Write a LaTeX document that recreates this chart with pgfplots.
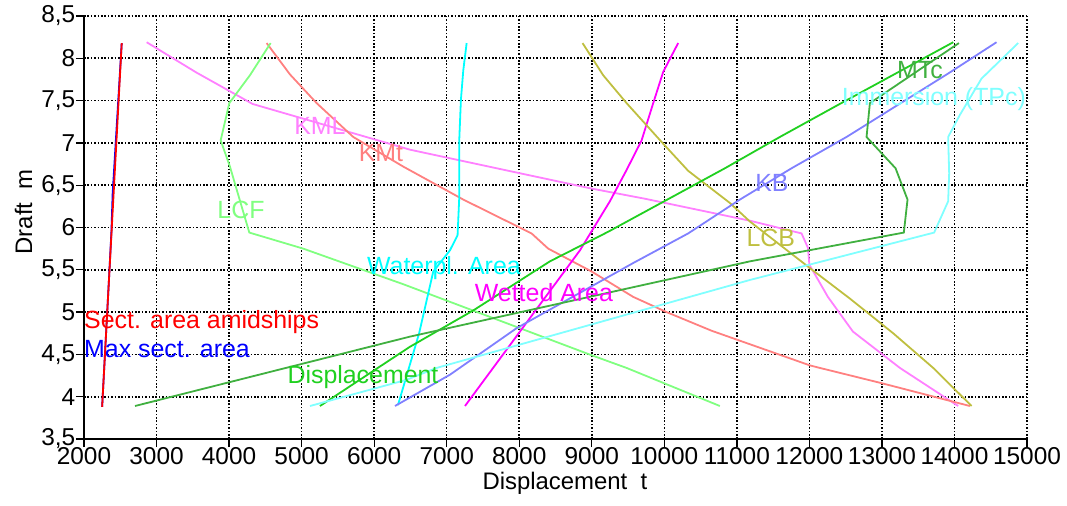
\documentclass[border=0pt]{standalone}
\usepackage{fontspec}
\setmainfont{Liberation Sans}
\usepackage{pgfplots}
\pgfplotsset{compat=1.18}
\usetikzlibrary{calc}

\definecolor{cKML}{HTML}{FF80FF}
\definecolor{cKMt}{HTML}{FF8080}
\definecolor{cLCF}{HTML}{80FF80}
\definecolor{cWat}{HTML}{00FFFF}
\definecolor{cWet}{HTML}{FF00FF}
\definecolor{cLCB}{HTML}{BFBF40}
\definecolor{cKB}{HTML}{8080FF}
\definecolor{cDis}{HTML}{20D020}
\definecolor{cMTc}{HTML}{40B040}
\definecolor{cImm}{HTML}{80FFFF}

\begin{document}
\begin{tikzpicture}
\begin{axis}[
    scale only axis,
    width=943bp, height=423bp,
    xmin=2000, xmax=15000,
    ymin=3.5, ymax=8.5,
    xtick={2000,3000,...,15000},
    ytick={3.5,4,...,8.5},
    scaled ticks=false,
    axis lines=left,
    axis line style={-, black, line width=2bp},
    tick align=outside,
    major tick length=8bp,
    tick style={black, line width=1.3bp},
    grid=major,
    major grid style={black, line width=1.6bp, dash pattern=on 1.6bp off 1.8bp},
    /pgf/number format/use comma,
    /pgf/number format/1000 sep={},
    /pgf/number format/assume math mode=true,
    ticklabel style={font=\fontsize{24.5}{26}\selectfont},
    xticklabel style={inner sep=0.5bp},
    yticklabel style={inner sep=0.5bp},
    label style={font=\fontsize{24}{26}\selectfont},
    xlabel={Displacement~~t},
    ylabel={Draft~~m},
    xlabel style={at={(axis description cs:0.51,-0.104)}, anchor=center},
    ylabel style={at={(axis description cs:-0.064,0.537)}, anchor=center},
    every axis plot/.append style={line width=1.8bp},
    clip=false,
    nodes={font=\fontsize{25}{27}\selectfont, inner sep=0pt},
]

% Max sect. area
\addplot[blue] coordinates {
    (2250,3.88) (2345,5.40) (2378,5.95) (2395,6.40) (2520,8.18)
};
% Sect. area amidships
\addplot[red] coordinates {
    (2250,3.88) (2520,8.18)
};
% KML
\addplot[cKML] coordinates {
    (2864,8.19) (3553,7.83) (4325,7.46) (6493,6.92) (7689,6.70) (8998,6.46)
    (9733,6.34) (11181,6.08) (11892,5.93) (11980,5.76) (12000,5.56)
    (12255,5.18) (12600,4.77) (13248,4.34) (14051,3.89)
};
% KMt
\addplot[cKMt] coordinates {
    (4518,8.18) (4839,7.81) (5207,7.47) (5712,7.07) (6401,6.72) (7229,6.33)
    (8170,5.93) (8400,5.75) (8998,5.48) (9571,5.18) (10031,5.00) (10651,4.78)
    (12007,4.37) (12145,4.34) (12995,4.16) (14212,3.89)
};
% LCF
\addplot[cLCF] coordinates {
    (4573,8.18) (4288,7.80) (4003,7.47) (3884,7.03) (4012,6.72) (4279,5.94)
    (5023,5.75) (6400,5.33) (8998,4.49) (9480,4.34) (10766,3.89)
};
% Waterpl. Area
\addplot[cWat] coordinates {
    (7275,8.18) (7229,7.86) (7196,7.51) (7173,7.03) (7173,6.35) (7150,5.91)
    (7045,5.73) (6815,5.48) (6620,4.75) (6328,3.90)
};
% Wetted Area
\addplot[cWet] coordinates {
    (10191,8.18) (9985,7.84) (9847,7.47) (9687,7.03) (9480,6.68) (9250,6.31)
    (8837,5.73) (7252,3.89)
};
% LCB
\addplot[cLCB] coordinates {
    (8873,8.18) (9157,7.80) (9480,7.47) (9985,6.99) (10329,6.67) (10904,6.29)
    (11181,6.07) (11662,5.75) (12007,5.52) (12558,5.16) (13155,4.75)
    (13707,4.34) (14236,3.89)
};
% KB
\addplot[cKB] coordinates {
    (6287,3.89) (7045,4.26) (7964,4.81) (9571,5.58) (10329,5.93) (11042,6.33)
    (11754,6.70) (12512,7.07) (13913,7.82) (14580,8.19)
};
% Displacement
\addplot[cDis] coordinates {
    (5253,3.89) (6493,4.59) (7367,5.02) (8423,5.60) (9227,5.95) (10835,6.70)
    (11593,7.07) (12397,7.45) (13983,8.19)
};
% MTc
\addplot[cMTc] coordinates {
    (2703,3.89) (6493,4.71) (11181,5.60) (13302,5.94) (13353,6.33)
    (13188,6.70) (12788,7.07) (12834,7.47) (14061,8.18)
};
% Immersion (TPc)
\addplot[cImm] coordinates {
    (5115,3.89) (6448,4.20) (6861,4.34) (11181,5.38) (13720,5.94) (13913,6.31)
    (13927,6.64) (13913,7.07) (14074,7.33) (14373,7.76) (14878,8.18)
};

\node[text=cKML] at (axis cs:5253,7.20) {KML};
\node[text=cKMt] at (axis cs:6094,6.88) {KMt};
\node[text=cLCF] at (axis cs:4164,6.21) {LCF};
\node[text=cWat] at (axis cs:6962,5.52) {Waterpl. Area};
\node[text=cWet] at (axis cs:8340,5.23) {Wetted Area};
\node[text=red, anchor=west] at (axis cs:2000,4.88) {Sect. area amidships};
\node[text=blue, anchor=west] at (axis cs:2000,4.56) {Max sect. area};
\node[text=cDis] at (axis cs:5846,4.23) {Displacement};
\node[text=cLCB] at (axis cs:11469,5.88) {LCB};
\node[text=cKB] at (axis cs:11483,6.53) {KB};
\node[text=cMTc] at (axis cs:13523,7.86) {MTc};
\node[text=cImm] at (axis cs:13716,7.52) {Immersion (TPc)};
\end{axis}
\pgfresetboundingbox
\path ($(current axis.south west)+(-84bp,-67bp)$) rectangle ($(current axis.north east)+(40bp,16bp)$);
\end{tikzpicture}
\end{document}
